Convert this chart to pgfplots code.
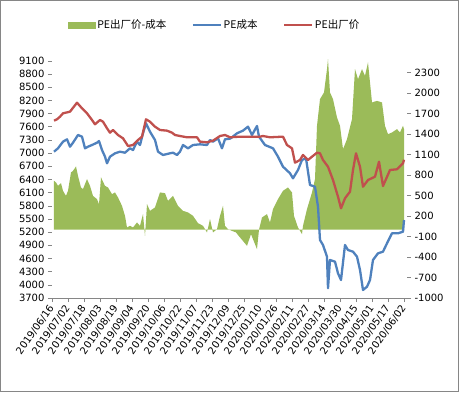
\documentclass[border=0pt]{standalone}
\usepackage{pgfplots}
\pgfplotsset{compat=1.18}
\usepackage{fontspec}
\setmainfont{DejaVu Sans}
\newfontfamily\cjk{Noto Sans CJK SC}
\definecolor{xgreen}{HTML}{9BBB59}
\definecolor{xblue}{HTML}{4F81BD}
\definecolor{xred}{HTML}{C0504D}
\definecolor{axgray}{HTML}{868686}
\begin{document}
\begin{tikzpicture}
\useasboundingbox (0,0) rectangle (459pt,392pt);
\draw[axgray, line width=0.8pt] (0.5pt,0.5pt) rectangle (458.5pt,391.5pt);
\pgfplotsset{common/.style={at={(52pt,94pt)}, anchor=south west, scale only axis,
  width=355pt, height=240pt, xmin=0, xmax=355,
  tick align=outside, major tick length=4pt,
  every tick/.style={axgray, line width=0.6pt},
  tick label style={font=\fontsize{10}{12}\selectfont},
  /pgf/number format/assume math mode=true, /pgf/number format/1000 sep={}}}
% right axis: green area
\begin{axis}[common, axis x line=none, axis y line*=right,
  y axis line style={draw=none,-},
  ymin=-1000, ymax=2511, ytick={-1000,-700,...,2300}]
\addplot[fill=xgreen, draw=none] coordinates {
(2,0) (2,714) (4,690) (6,641) (9,680) (11,568) (14,494) (16,568) (19,837) (21,860) (24,925) (26,787) (29,617) (31,593) (35,739) (38,641) (41,494) (45,446) (47,373) (49,764) (53,641) (56,617) (60,519) (63,544) (66,471) (70,348) (73,202) (75,32) (78,56) (81,32) (85,105) (88,56) (91,227) (93,-91) (95,373) (98,275) (103,325) (108,544) (113,534) (116,421) (121,494) (126,348) (131,275) (136,252) (141,202) (146,95) (151,56) (155,-41) (158,154) (161,-41) (165,7) (168,202) (171,348) (173,56) (176,7) (180,-18) (184,-41) (188,-114) (195,-237) (199,-66) (201,-139) (205,-285) (207,0) (210,178) (215,227) (218,105) (221,300) (226,446) (231,568) (236,617) (240,544) (242,202) (246,32) (250,-66) (251,56) (255,300) (260,544) (263,739) (265,1519) (268,1909) (272,2007) (275,2348) (276,2494) (278,2007) (281,1909) (285,1641) (288,1519) (291,1178) (295,1324) (300,1617) (303,2348) (306,2202) (310,2348) (313,2250) (316,2446) (320,1861) (325,1884) (330,1861) (333,1519) (336,1397) (340,1422) (345,1470) (348,1422) (351,1519) (352,1470) (352,0)
} \closedcycle;
\end{axis}
% left axis: lines
\begin{axis}[common, axis x line*=bottom, axis y line*=left,
  y axis line style={draw=none,-},
  x axis line style={axgray, line width=0.8pt, -},
  ymin=3700, ymax=9167, ytick={3700,4000,...,9100},
  xtick={0,16,...,352},
  xticklabels={2019/06/16,2019/07/02,2019/07/18,2019/08/03,2019/08/19,2019/09/04,2019/09/20,2019/10/06,2019/10/22,2019/11/07,2019/11/23,2019/12/09,2019/12/25,2020/01/10,2020/01/26,2020/02/11,2020/02/27,2020/03/14,2020/03/30,2020/04/15,2020/05/01,2020/05/17,2020/06/02},
  xticklabel style={rotate=55, anchor=east, yshift=-2pt},
  legend style={at={(0.458,1.1375)}, anchor=center, draw=none, fill=none,
    legend columns=3, font=\fontsize{10.5}{12}\selectfont\cjk,
    /tikz/every even column/.append style={column sep=24pt},
    nodes={inner sep=1.5pt}},
  legend image code/.code={\draw[#1, line width=2.4pt] (0pt,0pt) -- (28pt,0pt);}]
\addlegendimage{legend image code/.code={\fill[xgreen] (0pt,-3pt) rectangle (27pt,3pt);}}
\addlegendentry{PE出厂价-成本}
\addplot[xblue, line width=2.3pt, line join=round] coordinates {
(2,7033) (6,7110) (11,7261) (15,7315) (18,7147) (21,7238) (26,7413) (30,7375) (33,7110) (36,7147) (40,7185) (45,7238) (47,7276) (50,7071) (53,6919) (55,6768) (58,6919) (63,6996) (68,7033) (73,7010) (78,7110) (81,7071) (85,7261) (88,7185) (91,7452) (94,7680) (98,7488) (103,7299) (106,7033) (111,6958) (118,6996) (121,7010) (125,6958) (128,7033) (131,7185) (136,7110) (141,7185) (148,7201) (155,7185) (158,7299) (161,7261) (166,7338) (170,7110) (173,7315) (178,7330) (180,7361) (185,7452) (191,7512) (196,7603) (200,7413) (205,7618) (207,7375) (213,7185) (221,7110) (226,6919) (231,6691) (238,6541) (241,6427) (246,6616) (250,6844) (254,6882) (258,6274) (263,6235) (266,5780) (268,5021) (271,4907) (275,4641) (276,3921) (278,4566) (283,4527) (286,4263) (289,4110) (293,4907) (296,4793) (301,4755) (305,4641) (308,4338) (311,3882) (315,3957) (318,4110) (321,4566) (326,4718) (331,4755) (335,4946) (340,5174) (346,5174) (351,5210) (352,5477)
};
\addlegendentry{PE成本}
\addplot[xred, line width=2.3pt, line join=round] coordinates {
(2,7739) (5,7771) (8,7830) (11,7907) (18,7944) (25,8149) (30,8021) (35,7907) (40,7755) (43,7657) (48,7755) (51,7716) (55,7566) (58,7466) (61,7527) (66,7413) (71,7338) (76,7163) (81,7185) (86,7299) (90,7375) (94,7771) (98,7716) (103,7603) (108,7527) (115,7512) (120,7466) (123,7413) (128,7390) (135,7361) (145,7361) (148,7261) (155,7247) (161,7284) (168,7390) (173,7413) (178,7361) (188,7375) (208,7375) (211,7390) (218,7361) (231,7375) (235,7185) (240,7110) (243,6782) (248,6844) (251,6958) (256,6844) (260,6919) (265,7010) (268,6996) (271,6844) (276,6691) (281,6388) (286,6008) (289,5743) (293,5971) (298,6122) (301,6616) (304,6996) (308,6691) (311,6235) (316,6388) (323,6463) (327,6805) (331,6251) (338,6616) (345,6632) (351,6768) (352,6850)
};
\addlegendentry{PE出厂价}
\end{axis}
\end{tikzpicture}
\end{document}
